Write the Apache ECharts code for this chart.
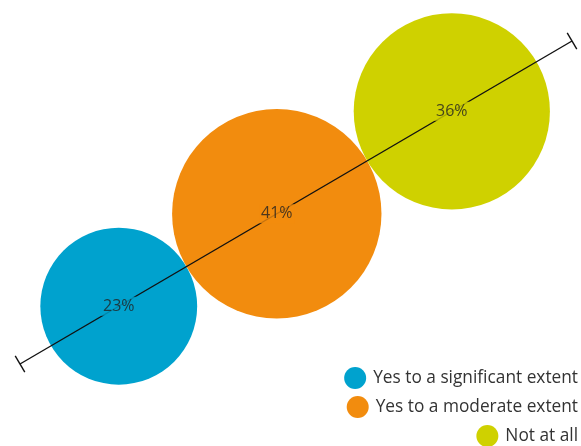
<!DOCTYPE html>
<html>
<head>
<meta charset="utf-8">
<script src="https://cdn.jsdelivr.net/npm/echarts@6/dist/echarts.min.js"></script>
<style>
  html, body { margin: 0; padding: 0; background: #ffffff; }
  #chart { width: 581px; height: 446px; }
</style>
</head>
<body>
<div id="chart"></div>
<script>
// Survey answers and their shares (%)
const categories = ['Yes to a significant extent', 'Yes to a moderate extent', 'Not at all'];
const shares = [23, 41, 36];
const palette = ['#00a2ce', '#f28c0e', '#cfd100'];

// Track along which the bubbles sit (in the pixel-unit plot space)
const trackStart = [20, 364];
const trackEnd = [572, 41];
const trackLead = 36;        // gap from the track start to the first bubble
const bubbleScale = 32.7;    // diameter = bubbleScale * sqrt(share) -> area ~ share

const dx = trackEnd[0] - trackStart[0];
const dy = trackEnd[1] - trackStart[1];
const trackLen = Math.sqrt(dx * dx + dy * dy);
const ux = dx / trackLen, uy = dy / trackLen;
const trackAngle = Math.atan2(-dy, dx) * 180 / Math.PI;

// Bubbles touch each other along the track
const diameters = shares.map(v => bubbleScale * Math.sqrt(v));
const centers = [];
let dist = trackLead;
diameters.forEach((d, i) => {
  const c = dist + d / 2;
  centers.push([trackStart[0] + ux * c, trackStart[1] + uy * c]);
  dist += d;
});

const bubbleSeries = categories.map((name, i) => ({
  name: name,
  type: 'scatter',
  z: 1,
  symbol: 'circle',
  symbolSize: diameters[i],
  itemStyle: { color: palette[i], opacity: 1 },
  emphasis: { disabled: true },
  data: [[centers[i][0], centers[i][1], shares[i]]]
}));

const trackSeries = {
  type: 'line',
  z: 2,
  silent: true,
  data: [trackStart, trackEnd],
  symbol: 'rect',
  symbolSize: [1.4, 19],
  symbolRotate: trackAngle,
  showAllSymbol: true,
  itemStyle: { color: '#111111' },
  lineStyle: { color: '#111111', width: 1.4 }
};

const labelSeries = {
  type: 'scatter',
  z: 3,
  silent: true,
  symbolSize: 1,
  itemStyle: { color: 'transparent' },
  data: shares.map((v, i) => ({
    value: [centers[i][0], centers[i][1], v],
    label: {
      show: true,
      position: 'inside',
      formatter: v + '%',
      fontFamily: 'Open Sans',
      fontSize: 16,
      color: '#222222',
      backgroundColor: palette[i],
      padding: [2, 2, 1, 2]
    }
  }))
};

const legendRowCenters = [378, 407, 436];
const legends = categories.map((name, i) => ({
  data: [name],
  right: 3,
  top: legendRowCenters[i] - 11,
  padding: 0,
  orient: 'horizontal',
  icon: 'circle',
  itemWidth: 22,
  itemHeight: 22,
  selectedMode: false,
  textStyle: { fontFamily: 'Open Sans', fontSize: 17.3, color: '#333333', padding: [0, 0, 0, 2] }
}));

const chart = echarts.init(document.getElementById('chart'), null, { renderer: 'canvas' });
chart.setOption({
  animation: false,
  backgroundColor: '#ffffff',
  grid: { left: 0, right: 0, top: 0, bottom: 0 },
  xAxis: { type: 'value', min: 0, max: 581, show: false },
  yAxis: { type: 'value', min: 0, max: 446, inverse: true, show: false },
  legend: legends,
  series: bubbleSeries.concat([trackSeries, labelSeries])
});
</script>
</body>
</html>
